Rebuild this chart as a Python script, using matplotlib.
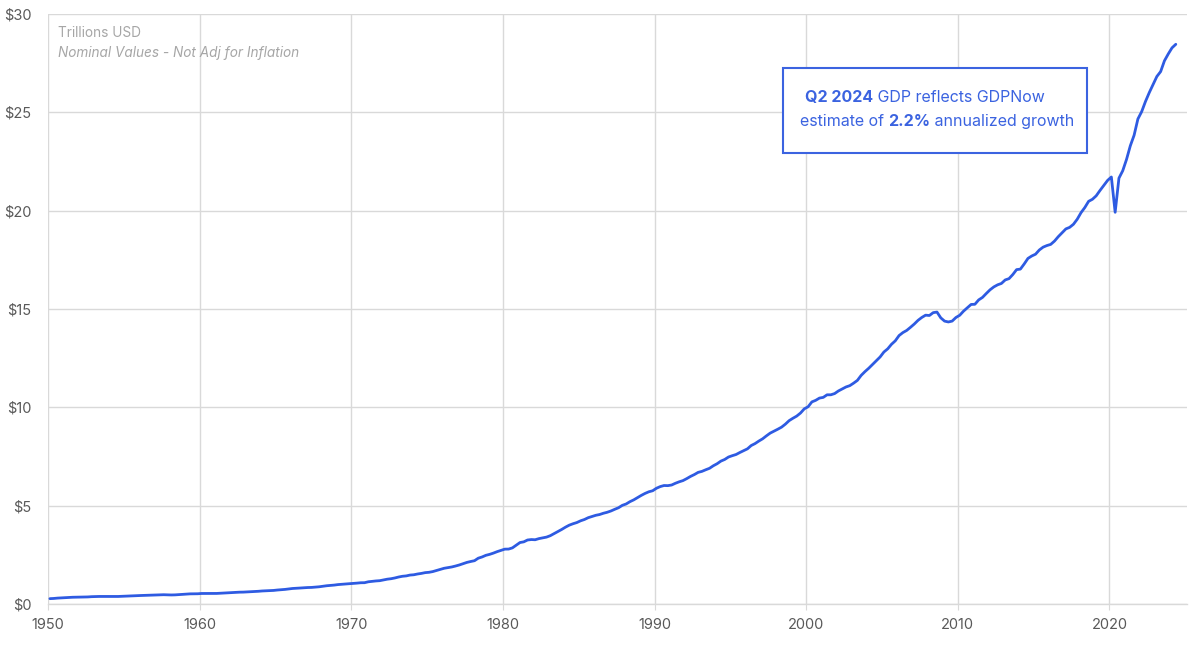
import matplotlib
matplotlib.use("Agg")
import matplotlib.pyplot as plt
import numpy as np
from matplotlib.patches import Rectangle

# Quarterly nominal GDP, billions USD (SAAR), 1950 Q1 .. 2024 Q2
start_year = 1950
gdp_billions = [
    280.8, 290.4, 308.5, 320.3,   # 1950
    336.4, 344.5, 351.7, 356.3,   # 1951
    360.2, 361.4, 368.1, 381.2,   # 1952
    388.5, 392.3, 391.3, 385.5,   # 1953
    386.1, 387.0, 391.9, 400.9,   # 1954
    414.0, 422.7, 431.5, 438.7,   # 1955
    440.9, 447.6, 452.8, 462.4,   # 1956
    470.6, 472.8, 480.3, 475.7,   # 1957
    468.4, 472.8, 486.7, 500.4,   # 1958
    511.1, 524.2, 525.2, 529.3,   # 1959
    543.3, 542.7, 546.0, 541.1,   # 1960
    545.9, 557.4, 568.2, 581.6,   # 1961
    595.2, 602.6, 609.6, 613.1,   # 1962
    622.7, 631.8, 645.0, 654.8,   # 1963
    671.1, 680.8, 692.8, 698.4,   # 1964
    719.2, 732.4, 750.2, 773.1,   # 1965
    797.3, 807.2, 820.8, 834.9,   # 1966
    846.0, 851.1, 866.6, 883.2,   # 1967
    911.1, 936.3, 952.3, 970.1,   # 1968
    995.4, 1011.4, 1032.0, 1040.7,  # 1969
    1053.5, 1070.1, 1088.5, 1091.5,  # 1970
    1137.8, 1159.4, 1180.3, 1193.6,  # 1971
    1233.8, 1270.1, 1293.8, 1332.0,  # 1972
    1380.7, 1417.6, 1436.8, 1479.1,  # 1973
    1494.7, 1534.2, 1563.4, 1603.0,  # 1974
    1619.6, 1656.4, 1713.8, 1765.9,  # 1975
    1824.5, 1856.9, 1890.5, 1938.4,  # 1976
    1992.5, 2060.2, 2122.4, 2168.7,  # 1977
    2208.7, 2336.6, 2398.9, 2482.2,  # 1978
    2531.6, 2595.9, 2670.4, 2730.7,  # 1979
    2796.5, 2799.9, 2860.0, 2993.5,  # 1980
    3131.8, 3167.3, 3261.2, 3283.5,  # 1981
    3273.8, 3331.3, 3367.1, 3407.8,  # 1982
    3480.3, 3583.8, 3692.3, 3796.1,  # 1983
    3912.8, 4015.0, 4087.4, 4147.6,  # 1984
    4237.0, 4302.3, 4394.6, 4453.1,  # 1985
    4516.3, 4555.2, 4619.6, 4669.4,  # 1986
    4736.2, 4821.5, 4900.5, 5022.4,  # 1987
    5090.6, 5207.7, 5299.5, 5412.7,  # 1988
    5527.4, 5628.4, 5711.6, 5763.4,  # 1989
    5890.8, 5974.7, 6029.5, 6023.3,  # 1990
    6054.9, 6143.6, 6218.4, 6279.3,  # 1991
    6380.8, 6492.3, 6586.5, 6697.6,  # 1992
    6748.2, 6829.6, 6904.2, 7032.8,  # 1993
    7136.3, 7269.8, 7352.3, 7476.7,  # 1994
    7545.3, 7604.9, 7706.5, 7799.5,  # 1995
    7893.1, 8061.5, 8159.0, 8287.1,  # 1996
    8402.1, 8551.9, 8691.8, 8788.3,  # 1997
    8889.7, 8994.7, 9146.5, 9325.7,  # 1998
    9447.1, 9557.0, 9712.3, 9926.1,  # 1999
    10031.0, 10278.3, 10357.4, 10472.3,  # 2000
    10508.1, 10638.4, 10639.5, 10701.3,  # 2001
    10834.4, 10934.8, 11037.1, 11103.8,  # 2002
    11230.1, 11370.7, 11625.1, 11816.8,  # 2003
    11988.4, 12181.4, 12367.7, 12562.2,  # 2004
    12813.7, 12974.1, 13205.4, 13381.6,  # 2005
    13648.9, 13799.8, 13908.5, 14066.4,  # 2006
    14233.2, 14422.3, 14569.7, 14685.3,  # 2007
    14668.4, 14813.0, 14843.0, 14549.9,  # 2008
    14383.9, 14340.4, 14384.1, 14566.5,  # 2009
    14681.1, 14888.6, 15057.7, 15230.2,  # 2010
    15238.4, 15460.9, 15587.1, 15785.3,  # 2011
    15973.9, 16121.9, 16227.9, 16297.3,  # 2012
    16475.4, 16541.4, 16749.3, 16999.9,  # 2013
    17025.2, 17285.6, 17569.4, 17692.2,  # 2014
    17783.6, 17998.3, 18141.9, 18222.8,  # 2015
    18281.6, 18450.1, 18675.3, 18869.4,  # 2016
    19068.3, 19148.2, 19304.5, 19561.9,  # 2017
    19894.8, 20155.5, 20470.2, 20573.0,  # 2018
    20750.5, 21021.5, 21272.4, 21531.8,  # 2019
    21706.5, 19913.1, 21647.6, 22024.5,  # 2020
    22600.2, 23292.4, 23829.0, 24654.6,  # 2021
    25029.1, 25544.3, 25994.6, 26408.4,  # 2022
    26813.6, 27063.0, 27610.1, 27956.0,  # 2023
    28269.2, 28450.0,                    # 2024
]

x_ticks = [1950, 1960, 1970, 1980, 1990, 2000, 2010, 2020]
y_ticks = [0, 5, 10, 15, 20, 25, 30]
y_tick_labels = ["$0", "$5", "$10", "$15", "$20", "$25", "$30"]

unit_label = "Trillions USD"
sub_label = "Nominal Values - Not Adj for Inflation"

LINE_BLUE = "#2E5BE2"
TEXT_BLUE = "#3B63E0"
GRID = "#d9d9d9"
TICK_GRAY = "#595959"

plt.rcParams["font.family"] = ["Inter", "DejaVu Sans"]

values = np.array(gdp_billions) / 1000.0
# mid-quarter positions
x = start_year + (np.arange(len(values)) + 0.5) / 4.0

fig = plt.figure(figsize=(12, 6.56), dpi=100)
ax = fig.add_axes([0.04, 0.079, 0.949, 0.9])

ax.plot(x, values, color=LINE_BLUE, linewidth=2.0, solid_joinstyle="round",
        solid_capstyle="round", zorder=3)

ax.set_xlim(1950, 2025.1)
ax.set_ylim(0, 30)
ax.set_xticks(x_ticks)
ax.set_xticklabels([str(t) for t in x_ticks])
ax.set_yticks(y_ticks)
ax.set_yticklabels(y_tick_labels)

ax.grid(True, color=GRID, linewidth=1.0, zorder=0)
for s in ["top", "right", "left"]:
    ax.spines[s].set_visible(False)
ax.spines["bottom"].set_color(GRID)
ax.spines["bottom"].set_linewidth(1.0)
ax.tick_params(axis="x", length=4, color=GRID, colors=TICK_GRAY, labelsize=10.5, pad=6)
ax.tick_params(axis="y", length=0, colors=TICK_GRAY, labelsize=10.5, pad=12)
for lbl in ax.get_xticklabels() + ax.get_yticklabels():
    lbl.set_color(TICK_GRAY)

ax.text(0.009, 0.968, unit_label, transform=ax.transAxes, fontsize=9.8,
        color="#a6a6a6", va="center", ha="left")
ax.text(0.009, 0.934, sub_label, transform=ax.transAxes, fontsize=9.8,
        color="#a6a6a6", va="center", ha="left", style="italic")

# Annotation box
ax.add_patch(Rectangle((0.645, 0.764), 0.267, 0.144, transform=ax.transAxes,
                       fill=True, facecolor="white", edgecolor=TEXT_BLUE,
                       linewidth=1.5, zorder=4))

fs = 11.5
t1 = ax.text(0.665, 0.858, "Q2 2024", transform=ax.transAxes, fontsize=fs,
             color=TEXT_BLUE, fontweight="bold", va="center", ha="left", zorder=5)
t2 = ax.annotate(" GDP reflects GDPNow", xy=(1, 0), xycoords=t1, fontsize=fs,
                 color=TEXT_BLUE, va="bottom", ha="left", zorder=5)
t3 = ax.text(0.660, 0.818, "estimate of ", transform=ax.transAxes, fontsize=fs,
             color=TEXT_BLUE, va="center", ha="left", zorder=5)
t4 = ax.annotate("2.2%", xy=(1, 0), xycoords=t3, fontsize=fs,
                 color=TEXT_BLUE, fontweight="bold", va="bottom", ha="left", zorder=5)
t5 = ax.annotate(" annualized growth", xy=(1, 0), xycoords=t4, fontsize=fs,
                 color=TEXT_BLUE, va="bottom", ha="left", zorder=5)

fig.savefig("out.png", dpi=100, facecolor="white")
